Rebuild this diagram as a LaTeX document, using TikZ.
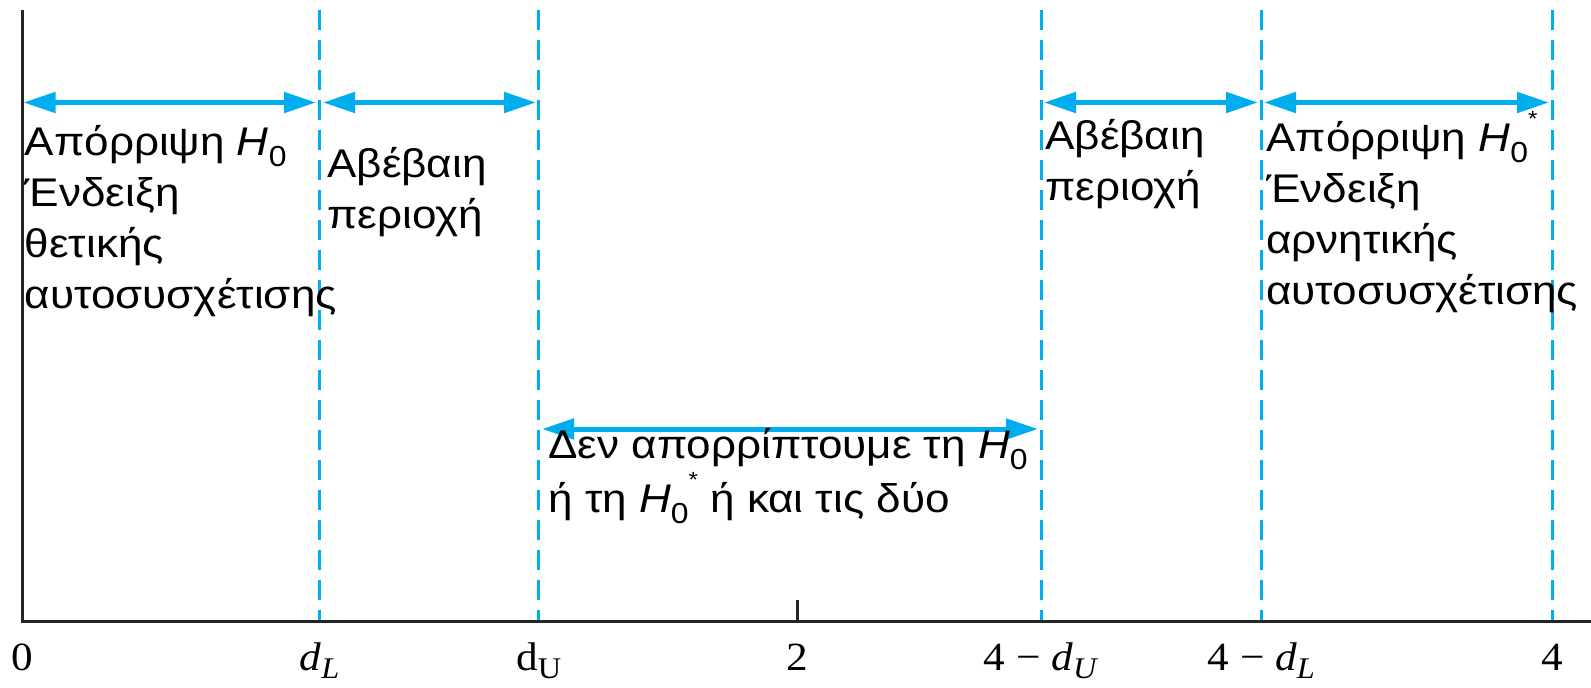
\documentclass[tikz,border=0pt]{standalone}
\usepackage{fontspec}
\setmainfont{Liberation Serif}[FakeStretch=1.08]
\setsansfont{Liberation Sans}[FakeStretch=1.1]
\usetikzlibrary{arrows.meta}
\definecolor{cyanline}{RGB}{0,174,239}
\newcommand{\Hnull}{\textit{H}\raisebox{-0.28em}{\fontsize{14.5}{14.5}\selectfont 0}}
\newcommand{\Hnullstar}{\textit{H}\raisebox{-0.28em}{\fontsize{14.5}{14.5}\selectfont 0}\raisebox{0.62em}{\fontsize{11}{11}\selectfont *}}
\newcommand{\dsub}[1]{\textit{d}\raisebox{-0.22em}{\fontsize{15}{15}\selectfont\textit{#1}}}
\begin{document}
\begin{tikzpicture}[x=0.5pt,y=-0.5pt,
  axis/.style={line width=1.5pt,black!85},
  dashline/.style={line width=1.5pt,cyanline,dash pattern=on 10pt off 5pt},
  dbl/.style={line width=2.5pt,cyanline,{Triangle[length=16pt,width=10pt]}-{Triangle[length=16pt,width=10pt]}},
  txt/.style={font=\sffamily\fontsize{20}{25.5}\selectfont,align=left,inner sep=0pt,anchor=base west},
  txttight/.style={font=\sffamily\fontsize{20}{22.5}\selectfont,align=left,inner sep=0pt,anchor=base west},
  lab/.style={font=\fontsize{20}{20}\selectfont,inner sep=0pt,anchor=base}]
\useasboundingbox (0,0) rectangle (1591,687);
% axes
\coordinate (top) at (22.3,10);
\coordinate (orig) at (22.3,621);
\coordinate (xend) at (1591,621);
\draw[axis] (top) -- (orig) -- (xend);
% tick at 2
\coordinate (tk1) at (797.5,600);
\coordinate (tk2) at (797.5,621);
\draw[line width=1.2pt,black!85] (tk1) -- (tk2);
% dashed lines
\foreach \n/\x in {dL/319.6, dU/538.8, fU/1041, fL/1261.3, four/1552.5}{
  \coordinate (\n t) at (\x,10);
  \coordinate (\n b) at (\x,620);
  \draw[dashline] (\n t) -- (\n b);
}
% top arrows
\coordinate (a0) at (23.5,102.5);
\coordinate (a1) at (316,102.5);
\coordinate (a2) at (323,102.5);
\coordinate (a3) at (536,102.5);
\coordinate (a4) at (1044,102.5);
\coordinate (a5) at (1258,102.5);
\coordinate (a6) at (1264,102.5);
\coordinate (a7) at (1549,102.5);
\draw[dbl] (a0) -- (a1);
\draw[dbl] (a2) -- (a3);
\draw[dbl] (a4) -- (a5);
\draw[dbl] (a6) -- (a7);
% middle arrow
\coordinate (m0) at (542,429);
\coordinate (m1) at (1038,429);
\draw[dbl] (m0) -- (m1);
% texts (anchored at the baseline of the last line)
\node[txt] (b1) at (24.5,308) {Απόρριψη \Hnull\\Ένδειξη\\θετικής\\αυτοσυσχέτισης};
\node[txt] (b2) at (327,228) {Αβέβαιη\\περιοχή};
\node[txt] (b3) at (1045,200) {Αβέβαιη\\περιοχή};
\node[txt] (b4) at (1266,304) {Απόρριψη \Hnullstar\\Ένδειξη\\αρνητικής\\αυτοσυσχέτισης};
\node[txttight] (b5) at (548,512) {Δεν απορρίπτουμε τη \Hnull\\ή τη \Hnullstar{} ή και τις δύο};
% bottom labels
\node[lab] (l0) at (22.3,670) {0};
\node[lab] (l1) at (319.6,670) {\dsub{L}};
\node[lab] (l2) at (538.8,670) {d\raisebox{-0.22em}{\fontsize{15}{15}\selectfont U}};
\node[lab] (l3) at (797.5,670) {2};
\node[lab] (l4) at (1041,670) {4 − \dsub{U}};
\node[lab] (l5) at (1261.3,670) {4 − \dsub{L}};
\node[lab] (l6) at (1552.5,670) {4};
\end{tikzpicture}
\end{document}
